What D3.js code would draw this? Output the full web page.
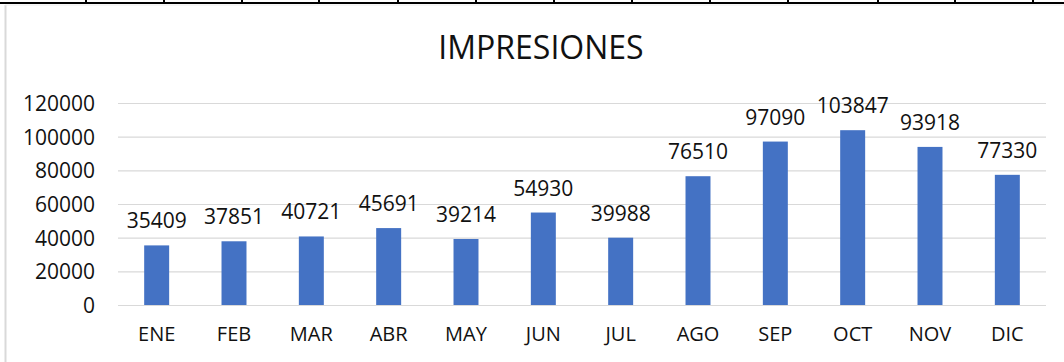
<!DOCTYPE html>
<html>
<head>
<meta charset="utf-8">
<script src="https://cdn.jsdelivr.net/npm/d3@7"></script>
<style>
  html, body { margin: 0; padding: 0; background: #fff; }
  svg { display: block; font-family: "Open Sans", "Noto Sans", sans-serif; }
</style>
</head>
<body>
<svg id="chart" width="1064" height="362"></svg>
<script>
// Monthly impressions
const months = ["ENE", "FEB", "MAR", "ABR", "MAY", "JUN", "JUL", "AGO", "SEP", "OCT", "NOV", "DIC"];
const impresiones = [35409, 37851, 40721, 45691, 39214, 54930, 39988, 76510, 97090, 103847, 93918, 77330];
const yTicks = [0, 20000, 40000, 60000, 80000, 100000, 120000];
const chartTitle = "IMPRESIONES";

const W = 1064, H = 362;
const plot = { left: 118, right: 1046, top: 103, bottom: 305 };

const svg = d3.select("#chart");

// Worksheet cell borders along the top edge
const cellEdges = [86, 164, 242, 319, 398, 476, 554, 632, 710, 788, 878, 955, 1033];
svg.append("line")
  .attr("x1", 0).attr("x2", W).attr("y1", 3).attr("y2", 3)
  .attr("stroke", "#000").attr("stroke-width", 2);
svg.selectAll("line.cell").data(cellEdges).join("line")
  .attr("class", "cell")
  .attr("x1", d => d).attr("x2", d => d)
  .attr("y1", 0).attr("y2", 4)
  .attr("stroke", "#000").attr("stroke-width", 2);

// Chart area frame
svg.append("line")
  .attr("x1", 5.5).attr("x2", 5.5).attr("y1", 5).attr("y2", H)
  .attr("stroke", "#d9d9d9").attr("stroke-width", 2);
svg.append("line")
  .attr("x1", 5).attr("x2", W).attr("y1", 5).attr("y2", 5)
  .attr("stroke", "#ececec").attr("stroke-width", 1);

// Scales
const x = d3.scaleBand()
  .domain(months)
  .range([plot.left, plot.right])
  .paddingInner(0.677)
  .paddingOuter(0.3385);

const y = d3.scaleLinear()
  .domain([0, 120000])
  .range([plot.bottom, plot.top]);

// Gridlines
svg.append("g")
  .attr("class", "grid")
  .attr("transform", `translate(${plot.left},0)`)
  .call(d3.axisLeft(y).tickValues(yTicks).tickSize(-(plot.right - plot.left)).tickFormat(""))
  .call(g => g.select(".domain").remove())
  .call(g => g.selectAll("line").attr("stroke", "#d9d9d9").attr("stroke-width", 1.2));

// Y axis labels
svg.append("g")
  .attr("class", "y-axis")
  .attr("transform", `translate(${plot.left},0)`)
  .call(d3.axisLeft(y).tickValues(yTicks).tickSize(0).tickPadding(23).tickFormat(d3.format("d")))
  .call(g => g.select(".domain").remove())
  .call(g => g.selectAll("text")
    .attr("font-size", 21).attr("fill", "#111").attr("dy", "0.36em")
    .attr("font-family", "'Open Sans', sans-serif"));

// X axis labels
svg.append("g")
  .attr("class", "x-axis")
  .attr("transform", `translate(0,${plot.bottom})`)
  .call(d3.axisBottom(x).tickSize(0).tickPadding(22))
  .call(g => g.select(".domain").remove())
  .call(g => g.selectAll("text")
    .attr("font-size", 20).attr("fill", "#111")
    .attr("font-family", "'Open Sans', sans-serif"));

// Bars
svg.selectAll("rect.bar").data(impresiones).join("rect")
  .attr("class", "bar")
  .attr("x", (d, i) => x(months[i]))
  .attr("width", x.bandwidth())
  .attr("y", d => y(d))
  .attr("height", d => y(0) - y(d))
  .attr("fill", "#4472c4");

// Value labels
svg.selectAll("text.value").data(impresiones).join("text")
  .attr("class", "value")
  .attr("x", (d, i) => x(months[i]) + x.bandwidth() / 2)
  .attr("y", d => y(d) - 17)
  .attr("text-anchor", "middle")
  .attr("font-size", 21)
  .attr("fill", "#111")
  .text(d => d);

// Title
svg.append("text")
  .attr("x", 541)
  .attr("y", 59)
  .attr("text-anchor", "middle")
  .attr("font-size", 32)
  .attr("fill", "#111")
  .text(chartTitle);
</script>
</body>
</html>
